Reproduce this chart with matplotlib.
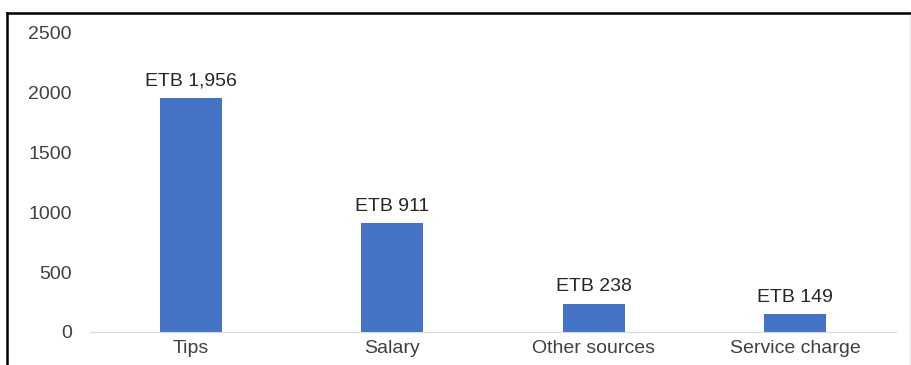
import matplotlib
matplotlib.use("Agg")
import matplotlib.pyplot as plt
from matplotlib.lines import Line2D

categories = ["Tips", "Salary", "Other sources", "Service charge"]
amounts = [1956, 911, 238, 149]
y_ticks = [0, 500, 1000, 1500, 2000, 2500]

plt.rcParams['font.family'] = ['Liberation Sans', 'DejaVu Sans']

W, H = 912, 365
fig = plt.figure(figsize=(W / 100, H / 100), dpi=100)
ax = fig.add_axes([90 / W, (H - 332) / H, (896 - 90) / W, (332 - 33) / H])

x = range(len(categories))
bars = ax.bar(x, amounts, width=0.31, color="#4472C4")

for b, v in zip(bars, amounts):
    ax.annotate("ETB {:,}".format(v), (b.get_x() + b.get_width() / 2, v),
                xytext=(0, 6), textcoords="offset points",
                ha="center", va="bottom", fontsize=14, color="#262626")

ax.set_xlim(-0.5, len(categories) - 0.5)
ax.set_ylim(0, 2500)
ax.set_yticks(y_ticks)
ax.set_xticks(list(x))
ax.set_xticklabels(categories)
ax.tick_params(axis="both", length=0, labelsize=14, colors="#404040")
ax.tick_params(axis="y", pad=13)
ax.tick_params(axis="x", pad=6)
for s in ["top", "right", "left"]:
    ax.spines[s].set_visible(False)
ax.spines["bottom"].set_color("#d9d9d9")

# outer frame (top and left edges)
fig.add_artist(Line2D([7 / W, 1], [1 - 13 / H, 1 - 13 / H], color="black", lw=1.8))
fig.add_artist(Line2D([7 / W, 7 / W], [0, 1 - 13 / H], color="black", lw=1.8))
fig.add_artist(Line2D([910 / W, 910 / W], [0, 1 - 15 / H], color="#e6e6e6", lw=0.8))

fig.savefig("out.png", dpi=100)
